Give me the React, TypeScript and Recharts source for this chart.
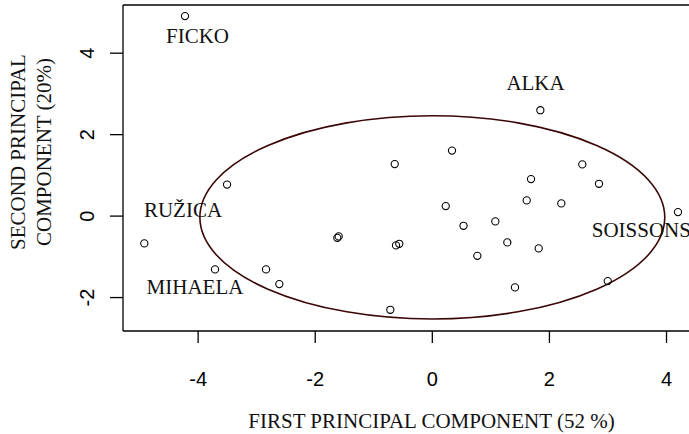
import React from 'react';
import { ScatterChart, Scatter, XAxis, YAxis, ReferenceArea, ReferenceLine } from 'recharts';

// Principal component scores (PC1, PC2)
const pc1 = [-4.224, 1.845, -3.506, -4.919, -3.711, -2.84, -2.613, -1.599, -1.623, -0.564, -0.62, -0.717, -0.642, 0.336, 0.229, 0.533, 0.769, 1.076, 1.281, 1.686, 1.612, 1.817, 2.203, 2.562, 2.847, 2.996, 4.196, 1.412];
const pc2 = [4.91, 2.6, 0.773, -0.67, -1.309, -1.309, -1.67, -0.498, -0.533, -0.68, -0.719, -2.3, 1.277, 1.608, 0.246, -0.238, -0.975, -0.13, -0.646, 0.908, 0.385, -0.793, 0.312, 1.269, 0.793, -1.596, 0.098, -1.751];

// Text labels (positions in data units)
const labelNames = ['FICKO', 'ALKA', 'RUŽICA', 'MIHAELA', 'SOISSONS'];
const labelX = [-4.01, 1.763, -4.258, -4.053, 3.57];
const labelY = [4.412, 3.275, 0.142, -1.733, -0.349];

// Ellipse (center and semi-axes, data units)
const ellipseCenter = [0, -0.03];
const ellipseRadii = [3.97, 2.495];

const xTicks = [-4, -2, 0, 2, 4];
const yTicks = [-2, 0, 2, 4];
const xDomain = [-5.283, 4.384];
const yDomain = [-2.821, 5.183];

const xTitle = 'FIRST PRINCIPAL COMPONENT (52 %)';
const yTitle1 = 'SECOND PRINCIPAL';
const yTitle2 = 'COMPONENT (20%)';

const points = pc1.map((x, i) => ({ x, y: pc2[i] }));
const labels = labelNames.map((name, i) => ({ x: labelX[i], y: labelY[i], name }));

const SERIF = '"Liberation Serif", "Times New Roman", serif';
const SANS = '"Liberation Sans", Arial, sans-serif';

const XTick = (props: any) => {
  const { x, payload } = props;
  return (
    <text x={x} y={386} textAnchor="middle" fontFamily={SANS} fontSize={20} fill="#000">
      {payload.value}
    </text>
  );
};

const YTick = (props: any) => {
  const { y, payload } = props;
  return (
    <text transform={`translate(94, ${y}) rotate(-90)`} x={0} y={0} textAnchor="middle" fontFamily={SANS} fontSize={20} fill="#000">
      {payload.value}
    </text>
  );
};

const Circle = (props: any) => (
  <circle cx={props.cx} cy={props.cy} r={3.6} fill="none" stroke="#000" strokeWidth={1.1} />
);

const LabelText = (props: any) => (
  <text x={props.cx} y={props.cy} dy={7} textAnchor="middle" fontFamily={SERIF} fontSize={21} fill="#111">
    {props.payload.name}
  </text>
);

const EllipseShape = (props: any) => {
  const { x, y, width, height } = props;
  return (
    <ellipse cx={x + width / 2} cy={y + height / 2} rx={Math.abs(width) / 2} ry={Math.abs(height) / 2} fill="none" stroke="#3a0606" strokeWidth={1.6} />
  );
};

export default function App() {
  return (
    <div style={{ position: 'absolute', left: 0, top: 0, width: 689, height: 434, background: '#fff' }}>
      <ScatterChart width={689} height={434} margin={{ top: 5, right: 0, bottom: 0, left: 0 }}>
        <XAxis
          type="number"
          dataKey="x"
          domain={xDomain}
          allowDataOverflow
          ticks={xTicks}
          interval={0}
          height={103}
          tickSize={12}
          tick={<XTick />}
          axisLine={{ stroke: '#000', strokeWidth: 1.3 }}
          tickLine={{ stroke: '#000', strokeWidth: 1.3 }}
          label={{
            content: () => (
              <text x={431.5} y={428} textAnchor="middle" fontFamily={SERIF} fontSize={21} fill="#111">
                {xTitle}
              </text>
            ),
          }}
        />
        <YAxis
          type="number"
          dataKey="y"
          domain={yDomain}
          allowDataOverflow
          ticks={yTicks}
          interval={0}
          width={123}
          tickSize={13}
          tick={<YTick />}
          axisLine={{ stroke: '#000', strokeWidth: 1.3 }}
          tickLine={{ stroke: '#000', strokeWidth: 1.3 }}
          label={{
            content: () => (
              <g>
                <text transform="translate(24.5, 152) rotate(-90)" textAnchor="middle" fontFamily={SERIF} fontSize={21} fill="#111">
                  {yTitle1}
                </text>
                <text transform="translate(51, 152) rotate(-90)" textAnchor="middle" fontFamily={SERIF} fontSize={21} fill="#111">
                  {yTitle2}
                </text>
              </g>
            ),
          }}
        />
        <ReferenceLine y={yDomain[1]} stroke="#000" strokeWidth={1.3} ifOverflow="visible" />
        <ReferenceArea
          x1={ellipseCenter[0] - ellipseRadii[0]}
          x2={ellipseCenter[0] + ellipseRadii[0]}
          y1={ellipseCenter[1] - ellipseRadii[1]}
          y2={ellipseCenter[1] + ellipseRadii[1]}
          ifOverflow="visible"
          shape={<EllipseShape />}
        />
        <Scatter data={points} shape={<Circle />} isAnimationActive={false} />
        <Scatter data={labels} shape={<LabelText />} isAnimationActive={false} />
      </ScatterChart>
    </div>
  );
}
